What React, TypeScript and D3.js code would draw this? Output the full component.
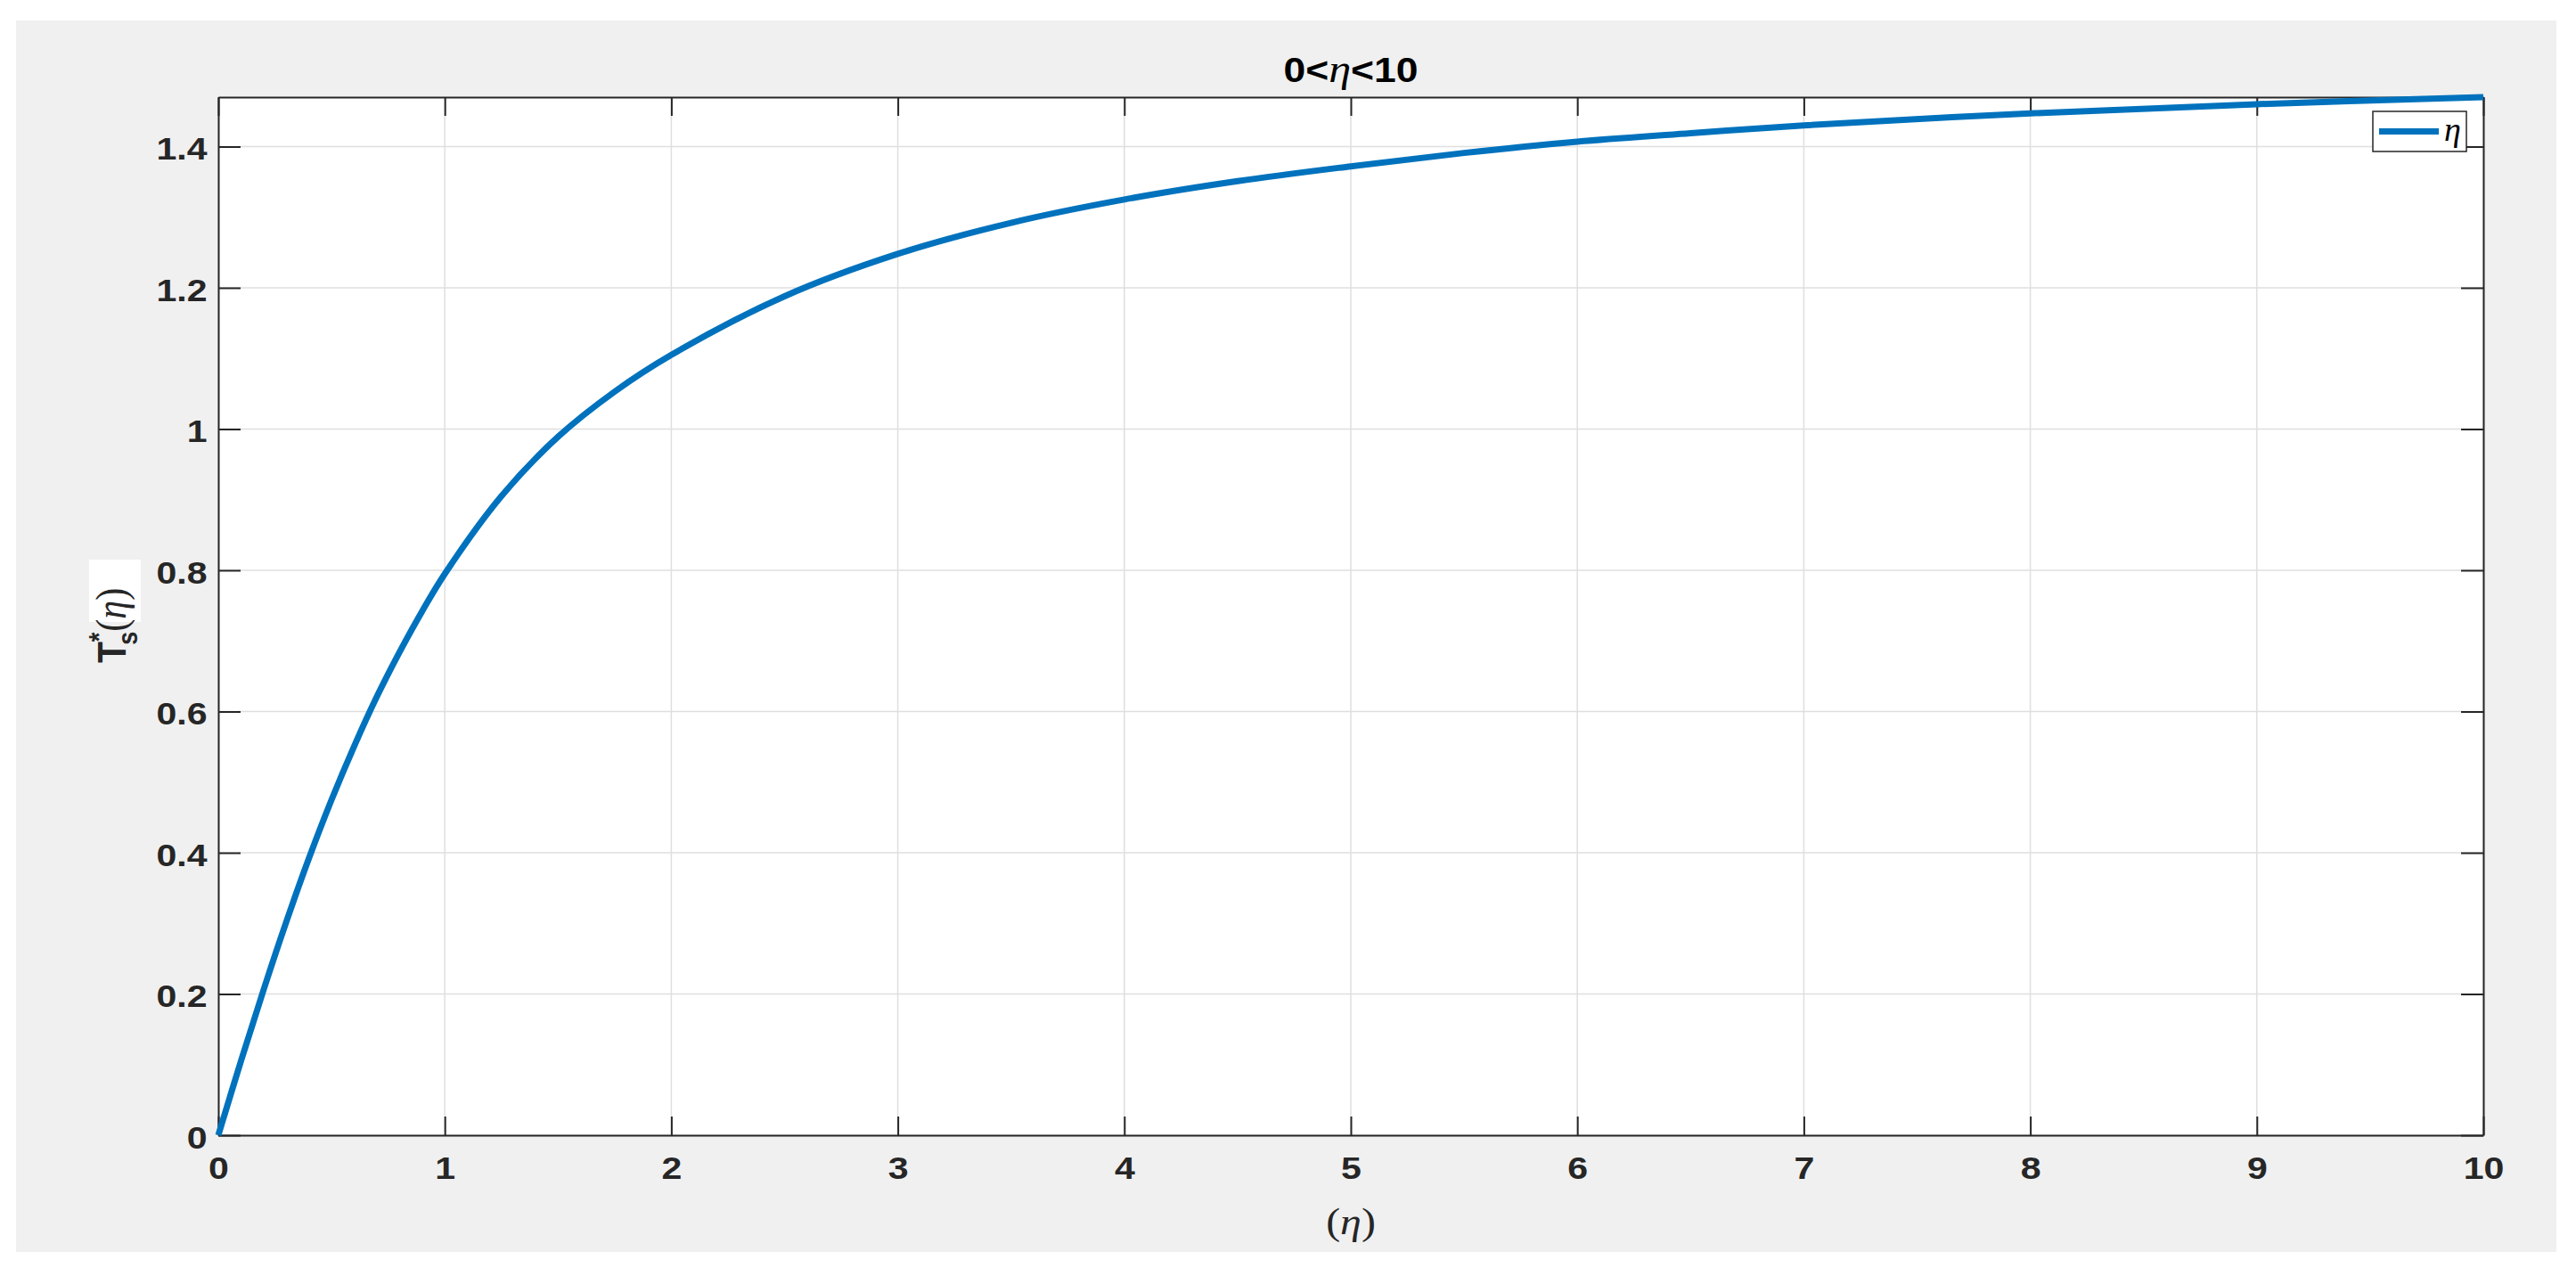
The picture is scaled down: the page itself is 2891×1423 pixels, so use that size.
import { useEffect, useRef } from 'react';
import * as d3 from 'd3';

// curve, eta -> T*s(eta)
const ETA = [0, 0.1, 0.2, 0.3, 0.4, 0.5, 0.6, 0.7, 0.8, 0.9, 1, 1.25, 1.5, 1.75, 2, 2.5, 3, 3.5, 4, 4.5, 5, 5.5, 6, 6.5, 7, 8, 9, 10];
const TS = [0, 0.105, 0.206, 0.302, 0.392, 0.475, 0.551, 0.621, 0.684, 0.742, 0.795, 0.905, 0.989, 1.053, 1.105, 1.188, 1.248, 1.292, 1.325, 1.351, 1.372, 1.391, 1.407, 1.419, 1.43, 1.447, 1.46, 1.47];

const X_TICKS = [0, 1, 2, 3, 4, 5, 6, 7, 8, 9, 10];
const Y_TICKS = [0, 0.2, 0.4, 0.6, 0.8, 1, 1.2, 1.4];

const WIDTH = 2891;
const HEIGHT = 1423;
const BLUE = '#0072bd';
const INK = '#262626';
const SANS = '"Liberation Sans", Arial, sans-serif';
const SERIF = '"Liberation Serif", "Times New Roman", serif';
const STRETCH = 1.14; // the figure looks stretched sideways

export default function App() {
  const svgRef = useRef<SVGSVGElement>(null);

  useEffect(() => {
    document.body.style.margin = '0';
    const svg = d3.select(svgRef.current);
    svg.selectAll('*').remove();

    const m = { top: 109, right: WIDTH - 2787, bottom: HEIGHT - 1274, left: 245 };
    const w = WIDTH - m.left - m.right;
    const h = HEIGHT - m.top - m.bottom;

    svg.append('rect').attr('width', WIDTH).attr('height', HEIGHT).attr('fill', '#fff');
    // figure background
    svg.append('rect')
      .attr('x', 18).attr('y', 23)
      .attr('width', 2869 - 18).attr('height', 1405 - 23)
      .attr('fill', '#f0f0f0');

    const x = d3.scaleLinear().domain([0, 10]).range([0, w]);
    const y = d3.scaleLinear().domain([0, d3.max(TS) as number]).range([h, 0]);

    const g = svg.append('g').attr('transform', `translate(${m.left},${m.top})`);
    g.append('rect').attr('width', w).attr('height', h).attr('fill', '#fff');

    // grid
    g.append('g').selectAll('line').data(X_TICKS).join('line')
      .attr('x1', (d) => x(d)).attr('x2', (d) => x(d))
      .attr('y1', 0).attr('y2', h)
      .attr('stroke', '#dfdfdf').attr('stroke-width', 1.5);
    g.append('g').selectAll('line').data(Y_TICKS).join('line')
      .attr('x1', 0).attr('x2', w)
      .attr('y1', (d) => y(d)).attr('y2', (d) => y(d))
      .attr('stroke', '#dfdfdf').attr('stroke-width', 1.5);

    const styleAxis = (sel: any) => {
      sel.select('.domain').attr('stroke', INK).attr('stroke-width', 2);
      sel.selectAll('.tick line').attr('stroke', INK).attr('stroke-width', 2);
      sel.selectAll('text')
        .attr('fill', INK)
        .attr('transform', `scale(${STRETCH},1)`)
        .style('font-family', SANS)
        .style('font-weight', 'bold')
        .style('font-size', '36px');
    };

    g.append('g')
      .attr('transform', `translate(0,${h})`)
      .call(d3.axisBottom(x).tickValues(X_TICKS).tickSizeInner(-21).tickSizeOuter(0).tickPadding(23).tickFormat(d3.format('d')))
      .call(styleAxis);
    g.append('g')
      .call(d3.axisTop(x).tickValues(X_TICKS).tickSizeInner(-21).tickSizeOuter(0).tickFormat(() => ''))
      .call(styleAxis);
    g.append('g')
      .call(d3.axisLeft(y).tickValues(Y_TICKS).tickSizeInner(-25).tickSizeOuter(0).tickPadding(11).tickFormat((d: any) => String(+d.toFixed(1))))
      .call(styleAxis)
      .call((a: any) => a.selectAll('text').attr('dy', '0.4em'));
    g.append('g')
      .attr('transform', `translate(${w},0)`)
      .call(d3.axisRight(y).tickValues(Y_TICKS).tickSizeInner(-25).tickSizeOuter(0).tickFormat(() => ''))
      .call(styleAxis);

    // curve
    const line = d3.line<number>()
      .x((_, i) => x(ETA[i]))
      .y((d) => y(d))
      .curve(d3.curveCatmullRom.alpha(0.5));
    g.append('path')
      .attr('d', line(TS))
      .attr('fill', 'none')
      .attr('stroke', BLUE)
      .attr('stroke-width', 7)
      .attr('stroke-linejoin', 'round');

    // legend
    const lg = svg.append('g').attr('transform', 'translate(2663,125)');
    lg.append('rect').attr('width', 105).attr('height', 45)
      .attr('fill', '#fff').attr('stroke', INK).attr('stroke-width', 1.5);
    lg.append('line').attr('x1', 7).attr('x2', 74).attr('y1', 22.5).attr('y2', 22.5)
      .attr('stroke', BLUE).attr('stroke-width', 7);
    lg.append('text').attr('x', 80).attr('y', 33)
      .style('font-family', SERIF).style('font-style', 'italic').style('font-size', '38px')
      .attr('fill', '#000').text('η');

    // title
    const title = svg.append('text')
      .attr('x', (m.left + w / 2) / STRETCH).attr('y', 92)
      .attr('transform', `scale(${STRETCH},1)`)
      .attr('text-anchor', 'middle')
      .style('font-family', SANS).style('font-weight', 'bold').style('font-size', '39px')
      .attr('fill', '#000');
    title.append('tspan').text('0<');
    title.append('tspan').style('font-family', SERIF).style('font-style', 'italic').style('font-weight', 'normal').style('font-size', '44px').text('η');
    title.append('tspan').text('<10');

    // x label
    const xl = svg.append('text')
      .attr('x', (m.left + w / 2) / STRETCH).attr('y', 1385)
      .attr('transform', `scale(${STRETCH},1)`)
      .attr('text-anchor', 'middle')
      .style('font-family', SERIF).style('font-size', '42px')
      .attr('fill', INK);
    xl.append('tspan').text('(');
    xl.append('tspan').style('font-style', 'italic').text('η');
    xl.append('tspan').text(')');

    // y label (with the odd white patch seen behind it)
    svg.append('rect').attr('x', 100).attr('y', 628).attr('width', 58).attr('height', 70).attr('fill', '#fff');
    const yl = svg.append('g').attr('transform', `translate(141,691) scale(${STRETCH},1) rotate(-90)`);
    const yt = yl.append('text').attr('x', -53).attr('y', 0)
      .style('font-family', SANS).style('font-weight', 'bold').style('font-size', '39px')
      .attr('fill', INK);
    yt.append('tspan').text('T');
    yt.append('tspan').attr('dy', -17).style('font-size', '27px').text('*');
    yt.append('tspan').attr('dx', -14).attr('dy', 28).style('font-size', '27px').text('s');
    yt.append('tspan').attr('dy', -11).style('font-family', SERIF).style('font-weight', 'normal').style('font-size', '42px').text('(');
    yt.append('tspan').style('font-family', SERIF).style('font-weight', 'normal').style('font-style', 'italic').style('font-size', '42px').text('η');
    yt.append('tspan').style('font-family', SERIF).style('font-weight', 'normal').style('font-size', '42px').text(')');
  }, []);

  return <svg ref={svgRef} width={WIDTH} height={HEIGHT} style={{ display: 'block' }} />;
}
